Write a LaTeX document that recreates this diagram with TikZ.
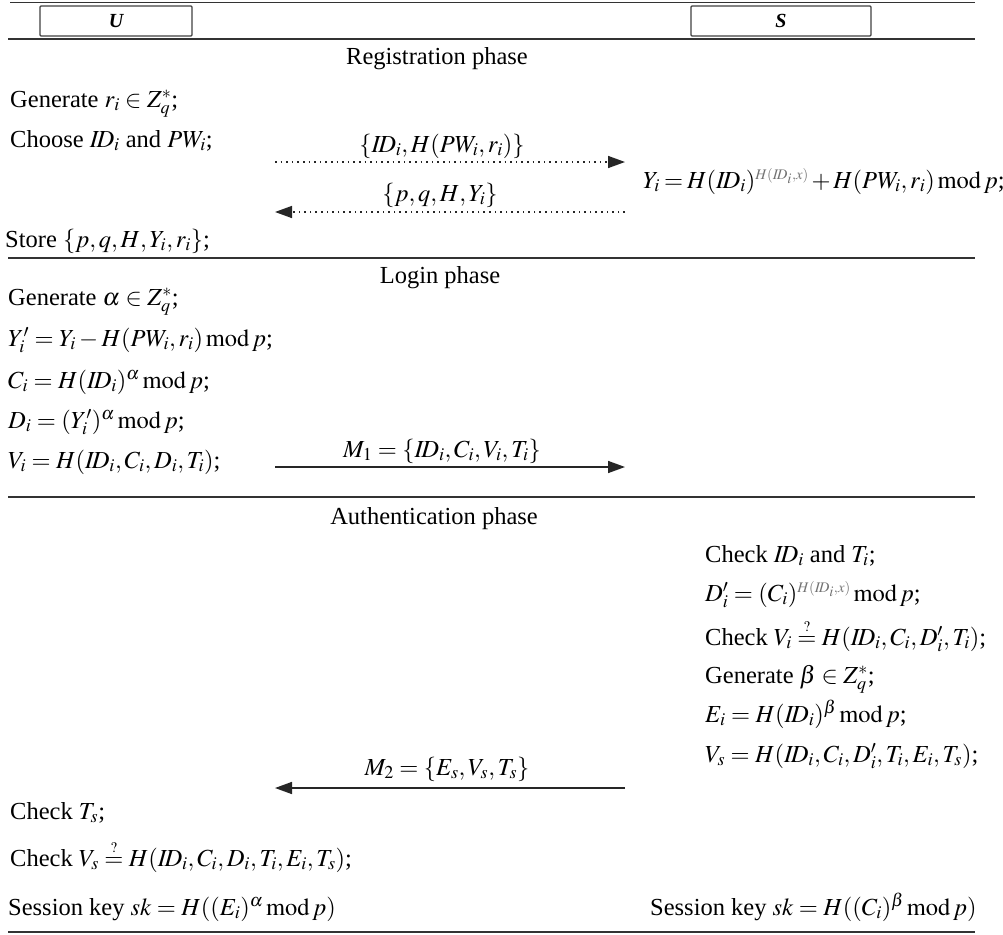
\documentclass[tikz,border=0pt]{standalone}
\usepackage{mathptmx}
\usepackage{fontspec}
\setmainfont{Liberation Serif}
\usetikzlibrary{arrows.meta}
\newcommand{\ex}[1]{{\color{black!55}#1}}
\newcommand{\md}{\mathrm{mod}\,}
\newcommand{\qeq}{\stackrel{\scriptscriptstyle ?}{=}}
\tikzset{
  txt/.style={anchor=base west, inner sep=0pt, font=\fontsize{24.5}{28}\selectfont},
  ctr/.style={anchor=base, inner sep=0pt, font=\fontsize{24.5}{28}\selectfont},
  rulel/.style={line width=1.5pt, draw=black!80},
  msg/.style={line width=1.6pt, draw=black!85, -{Triangle[length=17pt,width=12pt]}},
  dmsg/.style={msg, line width=1.5pt, dash pattern=on 1.6pt off 4pt},
  party/.style={draw=black!75, line width=1.3pt, rounded corners=1pt, minimum width=152pt, minimum height=30pt, inner sep=0pt, font=\fontsize{20}{24}\selectfont\bfseries\itshape}
}
\begin{document}
\begin{tikzpicture}[x=1pt,y=1pt]
\useasboundingbox (0,0) rectangle (1003,-934);
% rules
\coordinate (t1a) at (10,-3);   \coordinate (t1b) at (975,-3);
\coordinate (t2a) at (8,-39);   \coordinate (t2b) at (975,-39);
\coordinate (t3a) at (8,-258);  \coordinate (t3b) at (975,-258);
\coordinate (t4a) at (8,-497);  \coordinate (t4b) at (975,-497);
\coordinate (t5a) at (8,-932);  \coordinate (t5b) at (975,-932);
\draw[rulel, line width=1pt] (t1a) -- (t1b);
\draw[rulel] (t2a) -- (t2b);
\draw[rulel] (t3a) -- (t3b);
\draw[rulel] (t4a) -- (t4b);
\draw[rulel] (t5a) -- (t5b);
% parties
\node[party] (U) at (116,-21) {U};
\node[party, minimum width=180pt] (S) at (781,-21) {S};
% registration
\node[ctr] (reg) at (437,-64) {Registration phase};
\node[txt] (r1) at (10,-107) {Generate $r_i\in Z_q^{*}$;};
\node[txt] (r2) at (10,-147) {Choose $I\!D_i$ and $PW_i$;};
\node[ctr] (l1) at (442,-152) {$\{I\!D_i, H(PW_i, r_i)\}$};
\coordinate (a1s) at (275,-162); \coordinate (a1e) at (625,-162);
\draw[dmsg] (a1s) -- (a1e);
\node[txt] (r3) at (643,-188) {\medmuskip=2mu\thickmuskip=3mu$Y_i = H(I\!D_i)^{\ex{\scriptscriptstyle H(I\!D_i,x)}} + H(PW_i,r_i)\,\md p$;};
\node[ctr] (l2) at (440,-201) {$\{p,q,H,Y_i\}$};
\coordinate (a2s) at (625,-212); \coordinate (a2e) at (275,-212);
\draw[dmsg] (a2s) -- (a2e);
\node[txt] (r4) at (5,-247) {Store $\{p,q,H,Y_i,r_i\}$;};
% login
\node[ctr] (log) at (440,-283) {Login phase};
\node[txt] (g1) at (8,-305) {Generate $\alpha\in Z_q^{*}$;};
\node[txt] (g2) at (8,-346) {$Y_i' = Y_i - H(PW_i,r_i)\,\md p$;};
\node[txt] (g3) at (8,-388) {$C_i = H(I\!D_i)^{\alpha}\,\md p$;};
\node[txt] (g4) at (8,-428) {$D_i = (Y_i')^{\alpha}\,\md p$;};
\node[txt] (g5) at (8,-468) {$V_i = H(I\!D_i,C_i,D_i,T_i)$;};
\node[ctr] (l3) at (442,-457) {$M_1 = \{I\!D_i,C_i,V_i,T_i\}$};
\coordinate (a3s) at (275,-467); \coordinate (a3e) at (625,-467);
\draw[msg] (a3s) -- (a3e);
% authentication
\node[ctr] (auth) at (434,-524) {Authentication phase};
\node[txt] (s1) at (705,-562) {Check $I\!D_i$ and $T_i$;};
\node[txt] (s2) at (705,-601) {$D_i' = (C_i)^{\ex{\scriptscriptstyle H(I\!D_i,x)}}\,\md p$;};
\node[txt] (s3) at (705,-645) {Check $V_i \qeq H(I\!D_i,C_i,D_i',T_i)$;};
\node[txt] (s4) at (705,-683) {Generate $\beta\in Z_q^{*}$;};
\node[txt] (s5) at (705,-722) {$E_i = H(I\!D_i)^{\beta}\,\md p$;};
\node[txt] (s6) at (705,-762) {$V_s = H(I\!D_i,C_i,D_i',T_i,E_i,T_s)$;};
\node[ctr] (l4) at (447,-775) {$M_2 = \{E_s,V_s,T_s\}$};
\coordinate (a4s) at (625,-788); \coordinate (a4e) at (275,-788);
\draw[msg] (a4s) -- (a4e);
\node[txt] (u1) at (10,-819) {Check $T_s$;};
\node[txt] (u2) at (10,-866) {Check $V_s \qeq H(I\!D_i,C_i,D_i,T_i,E_i,T_s)$;};
\node[txt] (u3) at (8,-915) {Session key $sk = H((E_i)^{\alpha}\,\md p)$};
\node[txt] (s7) at (650,-915) {Session key $sk = H((C_i)^{\beta}\,\md p)$};
\end{tikzpicture}
\end{document}
